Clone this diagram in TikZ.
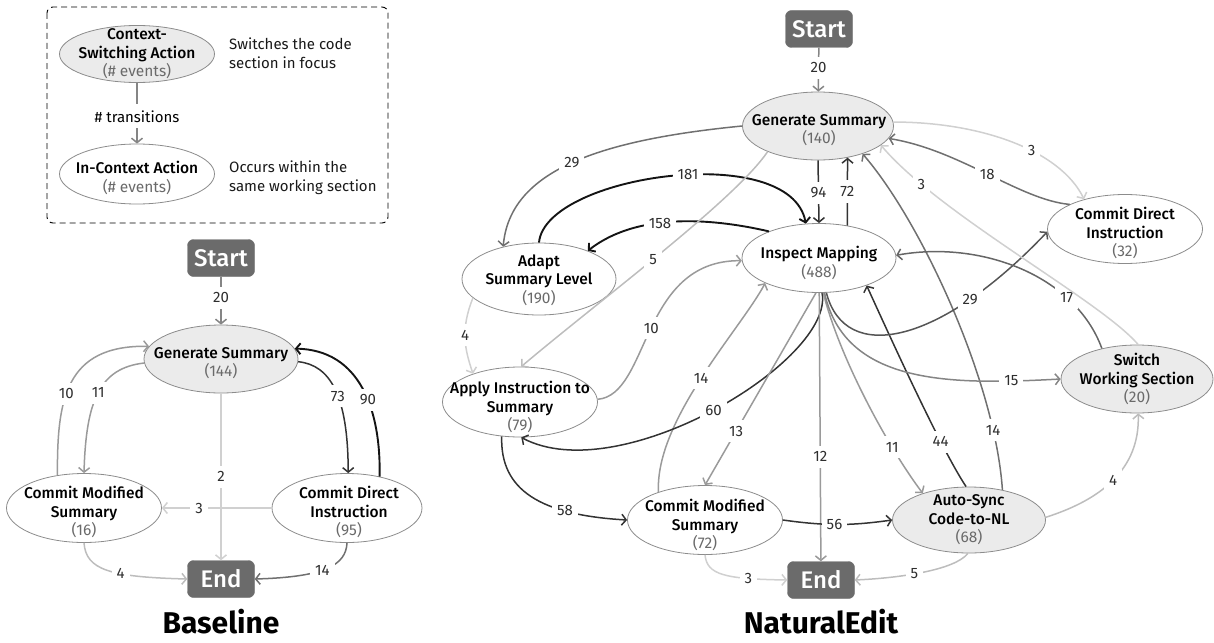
\documentclass[tikz,border=0pt]{standalone}
\usepackage{fontspec}
\setmainfont{Fira Sans}
\IfFontExistsTF{Fira Sans Medium}{\newfontfamily\medfont{Fira Sans Medium}}{\newfontfamily\medfont{Fira Sans}}
\usetikzlibrary{arrows.meta,shapes.geometric}
\definecolor{nodefill}{HTML}{EBEBEB}
\definecolor{nodedraw}{HTML}{8C8C8C}
\definecolor{termfill}{HTML}{6B6B6B}
\definecolor{numgray}{HTML}{6A6A6A}
\definecolor{lblc}{HTML}{2E2E2E}
\definecolor{eK}{HTML}{141414}
\definecolor{eD}{HTML}{333333}
\definecolor{eG}{HTML}{555555}
\definecolor{eH}{HTML}{666666}
\definecolor{eE}{HTML}{707070}
\definecolor{eF}{HTML}{858585}
\definecolor{eM}{HTML}{9A9A9A}
\definecolor{eL}{HTML}{BDBDBD}
\definecolor{eLL}{HTML}{D0D0D0}
\begin{document}
\begin{tikzpicture}[x=1pt,y=1pt,
  ell/.style={ellipse, draw=nodedraw, line width=0.8pt, fill=white, inner sep=0pt},
  ellg/.style={ell, fill=nodefill},
  txt/.style={align=center, font=\fontsize{15.5}{18.5}\selectfont, text=black, inner sep=0pt},
  desc/.style={anchor=west, align=left, font=\fontsize{15}{19}\selectfont, text=black!90, inner sep=0pt},
  term/.style={rectangle, rounded corners=6pt, fill=termfill, draw=termfill, text=white, minimum width=67pt, minimum height=37pt, inner sep=0pt, font=\medfont\fontsize{24}{24}\selectfont},
  lab/.style={fill=white, inner xsep=5pt, inner ysep=6pt, text=lblc, font=\fontsize{15}{15}\selectfont},
  arr/.style={line width=1.5pt, -{Straight Barb[length=4.5pt,width=11pt]}},
  heavy/.style={line width=1.9pt},
  ttl/.style={font=\bfseries\fontsize{30}{30}\selectfont, text=black, inner sep=0pt}
]
\useasboundingbox (0,0) rectangle (1214,-642);

% ---------------- Legend ----------------
\draw[dash pattern=on 6pt off 4pt, line width=0.9pt, rounded corners=6pt] (47,-7) rectangle (388,-223);
\node[ellg, minimum width=155pt, minimum height=57pt] (lcs) at (137,-54) {};
\node[txt] (lcs-t) at (137,-54) {{\medfont Context-}\\{\medfont Switching Action}\\{\color{numgray}(\# events)}};
\node[ell, minimum width=155pt, minimum height=60pt] (lic) at (137,-174) {};
\node[txt] (lic-t) at (137,-178) {{\medfont In-Context Action}\\{\color{numgray}(\# events)}};
\draw[arr, eF] (lcs) -- node[lab, text=black, pos=0.55]{\# transitions} (lic);
\node[desc] (d1) at (229,-53) {Switches the code\\section in focus};
\node[desc] (d2) at (229,-178) {Occurs within the\\same working section};

% ---------------- Baseline ----------------
\node[term] (bstart) at (221,-258) {Start};
\node[ellg, minimum width=154pt, minimum height=68pt] (bgs) at (221,-359) {};
\node[txt] (bgs-t) at (221,-363) {{\medfont Generate Summary}\\{\color{numgray}(144)}};
\node[ell, minimum width=155pt, minimum height=69pt] (bcms) at (84,-508) {};
\node[txt] (bcms-t) at (84,-512) {{\medfont Commit Modified}\\{\medfont Summary}\\{\color{numgray}(16)}};
\node[ell, minimum width=150pt, minimum height=69pt] (bcdi) at (347,-508) {};
\node[txt] (bcdi-t) at (349,-512) {{\medfont Commit Direct}\\{\medfont Instruction}\\{\color{numgray}(95)}};
\node[term] (bend) at (221,-579) {End};
\node[ttl] (btitle) at (221,-622) {Baseline};

\draw[arr, eF] (bstart) -- node[lab, pos=0.44]{20} (bgs);
\draw[arr, eM] (bcms.129) .. controls (57,-400) and (65,-345) .. (bgs.170) node[lab, pos=0.42]{10};
\draw[arr, eM] (bgs.183) .. controls (100,-368) and (86,-400) .. (bcms.90) node[lab, pos=0.5]{11};
\draw[arr, eD] (bgs.-2) .. controls (330,-365) and (348,-395) .. (bcdi.88) node[lab, pos=0.56]{73};
\draw[arr, eK, heavy] (bcdi.44) .. controls (381,-410) and (360,-350) .. (bgs.8) node[lab, pos=0.42]{90};
\draw[arr, eLL] (bgs) -- node[lab]{2} (bend);
\draw[arr, eLL] (bcdi) -- node[lab, pos=0.66]{3} (bcms);
\draw[arr, eL] (bcms.south) .. controls (86,-570) and (110,-577) .. (bend.west) node[lab, pos=0.62]{4};
\draw[arr, eE] (bcdi.south) .. controls (346,-565) and (325,-577) .. (bend.east) node[lab, pos=0.55]{14};

% ---------------- NaturalEdit ----------------
\node[term] (nstart) at (819,-29) {Start};
\node[ellg, minimum width=151pt, minimum height=68pt] (ngs) at (818,-126) {};
\node[txt] (ngs-t) at (819,-130) {{\medfont Generate Summary}\\{\color{numgray}(140)}};
\node[ell, minimum width=154pt, minimum height=69pt] (nim) at (819,-258) {};
\node[txt] (nim-t) at (819,-263) {{\medfont Inspect Mapping}\\{\color{numgray}(488)}};
\node[ell, minimum width=154pt, minimum height=72pt] (nasl) at (539,-279) {};
\node[txt] (nasl-t) at (539,-280) {{\medfont Adapt}\\{\medfont Summary Level}\\{\color{numgray}(190)}};
\node[ell, minimum width=155pt, minimum height=70pt] (nais) at (520,-402) {};
\node[txt] (nais-t) at (520,-407) {{\medfont Apply Instruction to}\\{\medfont Summary}\\{\color{numgray}(79)}};
\node[ell, minimum width=155pt, minimum height=69pt] (ncms) at (705,-520) {};
\node[txt] (ncms-t) at (705,-525) {{\medfont Commit Modified}\\{\medfont Summary}\\{\color{numgray}(72)}};
\node[ellg, minimum width=153pt, minimum height=66pt] (nas) at (969,-520) {};
\node[txt] (nas-t) at (969,-520) {{\medfont Auto-Sync}\\{\medfont Code-to-NL}\\{\color{numgray}(68)}};
\node[ellg, minimum width=152pt, minimum height=68pt] (nsws) at (1137,-379) {};
\node[txt] (nsws-t) at (1137,-379) {{\medfont Switch}\\{\medfont Working Section}\\{\color{numgray}(20)}};
\node[ell, minimum width=155pt, minimum height=69pt] (ncdi) at (1125,-229) {};
\node[txt] (ncdi-t) at (1125,-233) {{\medfont Commit Direct}\\{\medfont Instruction}\\{\color{numgray}(32)}};
\node[term] (nend) at (821,-580) {End};
\node[ttl] (ntitle) at (821,-622) {NaturalEdit};

\draw[arr, eF] (nstart) -- node[lab, pos=0.46]{20} (ngs);
\draw[arr, eE] (ngs.180) .. controls (600,-140) and (510,-170) .. (nasl.138) node[lab, pos=0.5]{29};
\draw[arr, eK, heavy] (nasl.90) .. controls (545,-175) and (790,-140) .. (nim.111) node[lab, pos=0.55]{181};
\draw[arr, eK, heavy] (nim.152) .. controls (720,-220) and (640,-210) .. (nasl.30) node[lab, pos=0.6]{158};
\draw[arr, eL] (ngs.207) .. controls (735,-200) and (600,-300) .. (nais.88) node[lab, pos=0.53]{5};
\draw[arr, eLL] (nasl.196) .. controls (460,-330) and (465,-350) .. (nais.149) node[lab, pos=0.45]{4};
\draw[arr, eM] (nais.2) .. controls (650,-395) and (640,-260) .. (nim.182) node[lab, pos=0.5]{10};
\draw[arr, eM] (ncms.149) .. controls (655,-420) and (740,-330) .. (nim.205) node[lab, pos=0.5]{14};
\draw[arr, eD] (nim.-85) .. controls (835,-360) and (620,-490) .. (nais.-88) node[lab, pos=0.5]{60};
\draw[arr, eM] (nim.-95) -- node[lab, pos=0.72]{13} (ncms.north);
\draw[arr, eM] (nim) -- node[lab, pos=0.61]{12} (nend);
\draw[arr, eM] (nim.-83) .. controls (840,-360) and (890,-450) .. (nas.150) node[lab, pos=0.72]{11};
\draw[arr, eD] (nas.95) .. controls (945,-455) and (905,-370) .. (nim.-30) node[lab, pos=0.32]{44};
\draw[arr, eE] (nas.42) .. controls (995,-380) and (920,-220) .. (ngs.-32) node[lab, pos=0.17]{14};
\draw[arr, eF] (nim.-81) .. controls (845,-385) and (950,-385) .. (nsws.180) node[lab, pos=0.85]{15};
\draw[arr, eG] (nim.-78) .. controls (845,-365) and (940,-345) .. (ncdi.182) node[lab, pos=0.75]{29};
\draw[arr, eH] (nsws.139) .. controls (1075,-275) and (980,-240) .. (nim.2) node[lab, pos=0.27]{17};
\draw[arr, eLL] (nsws.88) .. controls (1100,-300) and (940,-215) .. (ngs.-17) node[lab, pos=0.82]{3};
\draw[arr, eLL] (ngs.3) .. controls (980,-122) and (1060,-150) .. (ncdi.144) node[lab, pos=0.6]{3};
\draw[arr, eE] (ncdi.156) .. controls (1020,-200) and (960,-150) .. (ngs.-10) node[lab, pos=0.5]{18};
\draw[arr, eD] (ngs.-90) -- node[lab, pos=0.52]{94} (nim.90);
\draw[arr, eD] (nim.49) -- node[lab, pos=0.5]{72} (ngs.-47);
\draw[arr, eD] (nais.242) .. controls (500,-490) and (540,-515) .. (ncms.180) node[lab, pos=0.72]{58};
\draw[arr, eD] (ncms.east) to[bend right=8] node[lab, pos=0.47]{56} (nas.west);
\draw[arr, eLL] (ncms.south) .. controls (707,-575) and (725,-579) .. (nend.west) node[lab, pos=0.75]{3};
\draw[arr, eL] (nas.-92) .. controls (955,-570) and (900,-578) .. (nend.east) node[lab, pos=0.57]{5};
\draw[arr, eL] (nas.2) .. controls (1100,-500) and (1140,-470) .. (nsws.-88) node[lab, pos=0.5]{4};
\end{tikzpicture}
\end{document}
